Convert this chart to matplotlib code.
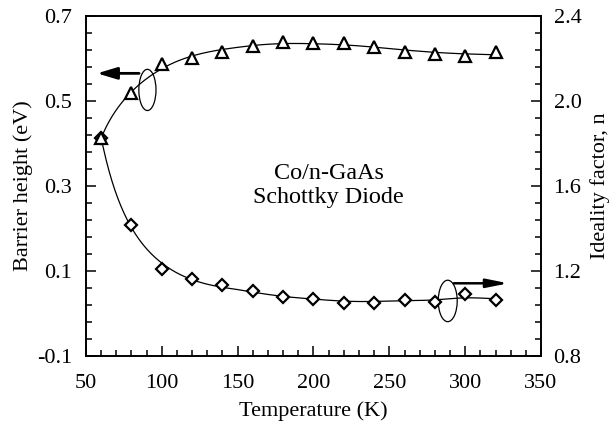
import numpy as np
import matplotlib
matplotlib.use("Agg")
import matplotlib.pyplot as plt
from matplotlib.patches import Ellipse
from matplotlib.ticker import FixedLocator, MultipleLocator

plt.rcParams['font.family'] = ['Liberation Serif', 'DejaVu Serif']
plt.rcParams['axes.unicode_minus'] = False

# data
temp = np.array([60, 80, 100, 120, 140, 160, 180, 200, 220, 240, 260, 280, 300, 320])
barrier = np.array([0.413, 0.518, 0.587, 0.600, 0.615, 0.630, 0.639, 0.637,
                    0.636, 0.628, 0.616, 0.610, 0.607, 0.615])
ideality = np.array([1.826, 1.416, 1.209, 1.162, 1.134, 1.106, 1.079, 1.068,
                     1.051, 1.051, 1.062, 1.056, 1.090, 1.064])

left_ticks = [-0.1, 0.1, 0.3, 0.5, 0.7]
right_ticks = [0.8, 1.2, 1.6, 2.0, 2.4]
x_ticks = [50, 100, 150, 200, 250, 300, 350]


def smooth_curve(x, y, xs, deg=4, bw=14.0, frac=0.7):
    # polynomial in 1/T plus a kernel-smoothed share of the residuals
    p = np.polyfit(1.0 / x, y, deg)
    res = y - np.polyval(p, 1.0 / x)
    w = np.exp(-0.5 * ((xs[:, None] - x[None, :]) / bw) ** 2)
    w[:, :3] = 0  # keep the steep low-T part on the plain fit
    r = (w * res).sum(axis=1) / np.maximum(w.sum(axis=1), 1e-9)
    fade = np.clip((xs - 110) / 40, 0, 1)
    return np.polyval(p, 1.0 / xs) + frac * fade * r


fig = plt.figure(figsize=(6.12, 4.32), dpi=100)
ax = fig.add_axes([0.1405, 0.176, 0.7435, 0.787])
ax2 = ax.twinx()

tt = np.linspace(60, 320, 400)
ax.plot(tt, smooth_curve(temp, barrier, tt, frac=0.4), color='k', lw=0.9)
ax2.plot(tt, smooth_curve(temp, ideality, tt), color='k', lw=0.9)

ax2.plot(temp, ideality, ls='none', marker='D', ms=6.5, mfc='white', mec='k', mew=1.6)
# triangles drawn on the twin axes (left-axis data transform) so they sit on top
ax2.plot(temp, barrier, ls='none', marker='^', ms=9, mfc='white', mec='k', mew=1.6,
         transform=ax.transData)

ax.set_xlim(50, 350)
ax.set_ylim(-0.1, 0.7)
ax2.set_ylim(0.8, 2.4)

ax.xaxis.set_major_locator(FixedLocator(x_ticks))
ax.xaxis.set_minor_locator(MultipleLocator(10))
ax.yaxis.set_major_locator(FixedLocator(left_ticks))
ax.yaxis.set_minor_locator(FixedLocator(np.arange(-0.1, 0.7001, 0.04)))
ax2.yaxis.set_major_locator(FixedLocator(right_ticks))
ax2.yaxis.set_minor_locator(FixedLocator(np.arange(0.8, 2.4001, 0.08)))
ax.set_yticklabels(['%.1f' % v for v in left_ticks])
ax2.set_yticklabels(['%.1f' % v for v in right_ticks])
ax.set_xticklabels([str(v) for v in x_ticks])

ax.tick_params(which='both', direction='in', top=False, right=False, labelsize=16, width=1.1)
ax.tick_params(which='major', length=7, pad=10)
ax.tick_params(axis='x', which='major', pad=13)
ax.tick_params(which='minor', length=4)
ax2.tick_params(which='both', direction='in', labelsize=16, width=1.1)
ax2.tick_params(which='major', length=7, pad=9)
ax2.tick_params(which='minor', length=4)
for a in (ax, ax2):
    for s in a.spines.values():
        s.set_linewidth(1.2)

ax.set_xlabel('Temperature (K)', fontsize=16, labelpad=6)
ax.set_ylabel('Barrier height (eV)', fontsize=16, labelpad=3)
ax2.set_ylabel('Ideality factor, n', fontsize=16, labelpad=6)

ax.text(210, 0.302, 'Co/n-GaAs\nSchottky Diode', fontsize=17.4, ha='center', va='center',
        linespacing=1.2)

# ellipse + arrow markers pointing to the right axis for each curve
ax.add_patch(Ellipse((90.5, 0.526), 11.3, 0.097, fill=False, lw=0.9, ec='k'))
ax.annotate('', xy=(57.3, 0.565), xytext=(85, 0.565),
            arrowprops=dict(arrowstyle='-|>,head_length=0.6,head_width=0.18',
                            mutation_scale=20, lw=2, color='k', shrinkA=0, shrinkB=0))
ax2.add_patch(Ellipse((288.5, 1.059), 12.5, 0.195, fill=False, lw=0.9, ec='k'))
ax2.annotate('', xy=(328.5, 1.142), xytext=(292.6, 1.142),
             arrowprops=dict(arrowstyle='-|>,head_length=0.65,head_width=0.13',
                             mutation_scale=20, lw=1.8, color='k', shrinkA=0, shrinkB=0))

fig.savefig('out.png', dpi=100)
